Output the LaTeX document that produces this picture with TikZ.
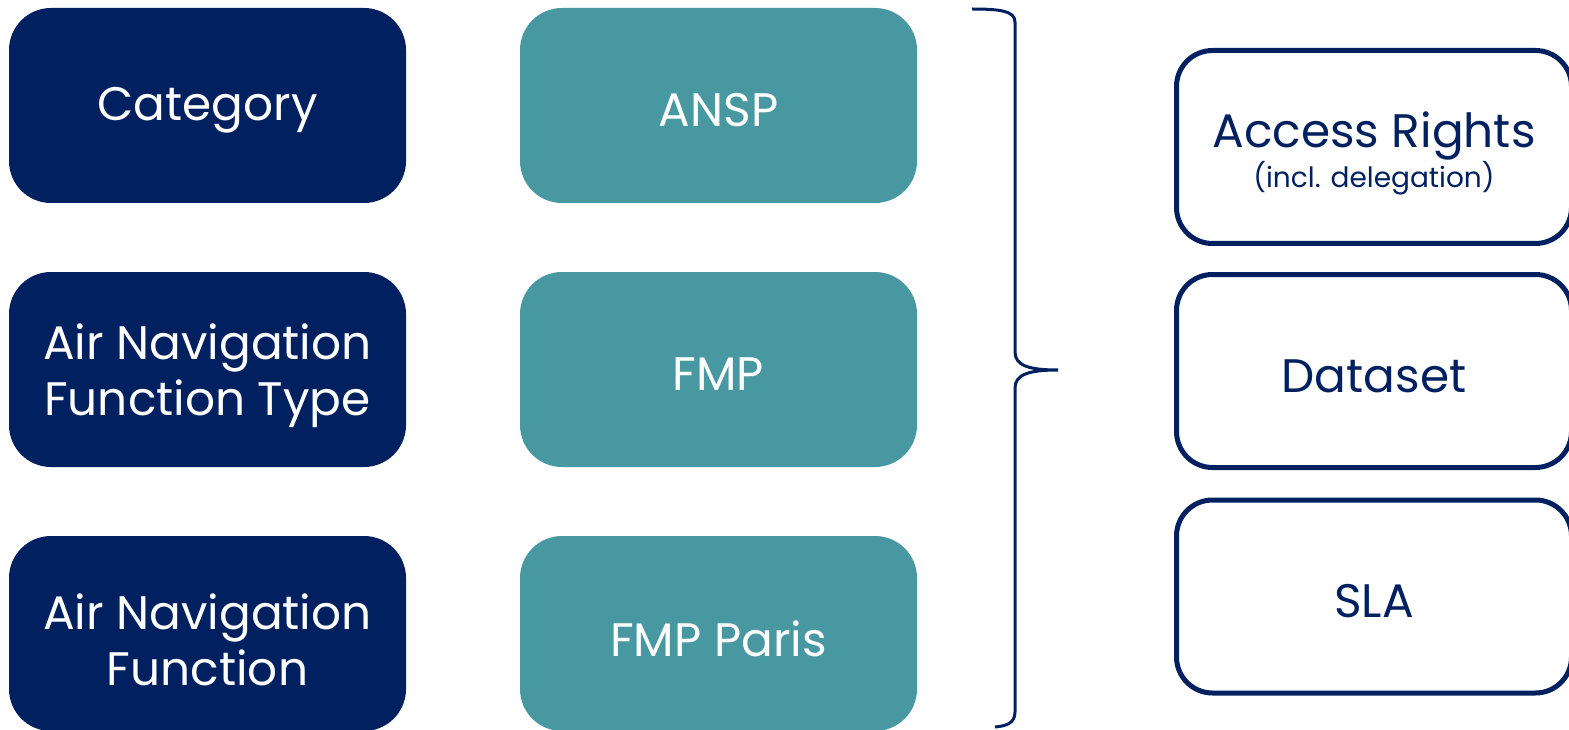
\documentclass[tikz,border=0pt]{standalone}
\usepackage{fontspec}
\setmainfont{Poppins}
\definecolor{navy}{HTML}{012060}
\definecolor{teal2}{HTML}{4798A0}
\begin{document}
\begin{tikzpicture}[x=1pt,y=-1pt,
  boxbase/.style={rounded corners=42pt, minimum width=397pt, minimum height=195pt, inner sep=0pt},
  darkbox/.style={boxbase, fill=navy},
  tealbox/.style={boxbase, fill=teal2},
  outbox/.style={draw=navy, line width=5pt, fill=white, rounded corners=36pt, minimum width=395pt, minimum height=193pt, inner sep=0pt},
  wtxt/.style={text=white, font=\fontsize{47}{56}\selectfont, align=center, inner sep=0pt},
  ntxt/.style={text=navy, font=\fontsize{47}{56}\selectfont, align=center, inner sep=0pt},
  brace/.style={draw=navy, line width=3pt}]
\useasboundingbox (0,0) rectangle (1569,730);
\clip (0,0) rectangle (1569,730);
\node[darkbox] (cat) at (207.5,105.5) {};
\node[darkbox] (anft) at (207.5,369.5) {};
\node[darkbox] (anf) at (207.5,633.5) {};
\node[tealbox] (ansp) at (718.5,105.5) {};
\node[tealbox] (fmp) at (718.5,369.5) {};
\node[tealbox] (fmpp) at (718.5,633.5) {};
\node[outbox] (acc) at (1374,147) {};
\node[outbox] (data) at (1374,371) {};
\node[outbox] (sla) at (1374,596.5) {};
\node[wtxt] (tcat) at ([yshift=-5pt]cat.center) {Category};
\node[wtxt] (tanft) at ([yshift=-6pt]anft.center) {Air Navigation\\Function Type};
\node[wtxt] (tanf) at ([yshift=-6pt]anf.center) {Air Navigation\\Function};
\node[wtxt] (tansp) at ([yshift=-5pt]ansp.center) {ANSP};
\node[wtxt] (tfmp) at ([yshift=-5pt]fmp.center) {FMP};
\node[wtxt] (tfmpp) at ([yshift=-5pt]fmpp.center) {FMP Paris};
\node[ntxt] (tacc) at ([yshift=-6pt]acc.center) {Access Rights\\[-16pt]{\fontsize{28}{34}\selectfont (incl. delegation)}};
\node[ntxt] (tdata) at ([yshift=-5pt]data.center) {Dataset};
\node[ntxt] (tsla) at ([yshift=-5pt]sla.center) {SLA};
\draw[brace] (972,9) .. controls (1000,9) and (1015,11) .. (1015,22) -- (1015,352)
  .. controls (1015,366) and (1030,370) .. (1058,370)
  .. controls (1030,370) and (1015,374) .. (1015,388) -- (1015,712)
  .. controls (1015,724) and (1005,726) .. (995,727);
\end{tikzpicture}
\end{document}
